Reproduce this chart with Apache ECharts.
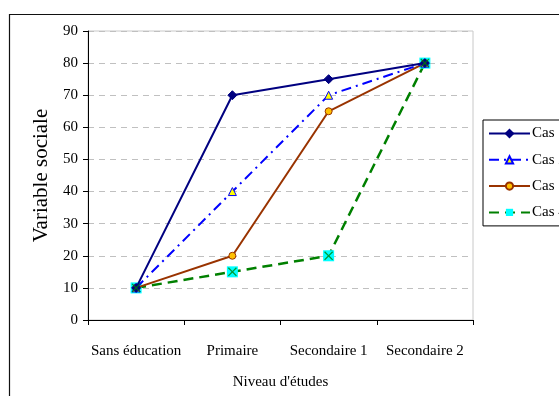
<!DOCTYPE html>
<html>
<head>
<meta charset="utf-8">
<script src="https://cdn.jsdelivr.net/npm/echarts@6/dist/echarts.min.js"></script>
<style>html,body{margin:0;padding:0;background:#fff}#c{width:559px;height:396px}</style>
</head>
<body>
<div id="c"></div>
<script>
// Niveau d'études vs variable sociale, four cases
const categories = ['Sans éducation', 'Primaire', 'Secondaire 1', 'Secondaire 2'];
const cas1 = [10, 70, 75, 80];
const cas2 = [10, 40, 70, 80];
const cas3 = [10, 20, 65, 80];
const cas4 = [10, 15, 20, 80];
const yTicks = { min: 0, max: 90, step: 10 };

const FONT = '"Liberation Serif", "Times New Roman", serif';
const crossPath = 'path://M1,0 L5,4 L9,0 L10,1 L6,5 L10,9 L9,10 L5,6 L1,10 L0,9 L4,5 L0,1 Z';

const chart = echarts.init(document.getElementById('c'), null, { renderer: 'canvas' });
chart.setOption({
  animation: false,
  backgroundColor: '#fff',
  textStyle: { fontFamily: FONT },
  graphic: [{
    type: 'rect', silent: true, z: -10,
    shape: { x: 9.5, y: 14.5, width: 620, height: 420 },
    style: { fill: 'none', stroke: '#111', lineWidth: 1.2 }
  }],
  grid: {
    left: 88, top: 31, right: 86, bottom: 76,
    outerBoundsMode: 'none', containLabel: false,
    show: true, borderColor: '#c8c8c8', borderWidth: 1, backgroundColor: 'transparent'
  },
  legend: {
    left: 483, top: 120, width: 200, orient: 'vertical',
    itemWidth: 41, itemHeight: 9, itemGap: 11.3,
    padding: [6, 10, 6, 5],
    borderColor: '#000', borderWidth: 1,
    textStyle: { fontFamily: FONT, fontSize: 15, lineHeight: 14, color: '#000', padding: [0, 0, 0, -3] },
    data: ['Cas 1', 'Cas 2', 'Cas 3', 'Cas 4']
  },
  xAxis: {
    type: 'category', data: categories, boundaryGap: true,
    name: "Niveau d'études", nameLocation: 'middle', nameGap: 55,
    nameTextStyle: { fontFamily: FONT, fontSize: 15, color: '#000' },
    axisLine: { lineStyle: { color: '#000', width: 1 } },
    axisTick: { show: true, length: 5, inside: false, alignWithLabel: false, lineStyle: { color: '#000' } },
    axisLabel: { color: '#000', fontFamily: FONT, fontSize: 15, margin: 24, interval: 0 },
    splitLine: { show: false }
  },
  yAxis: {
    type: 'value', min: yTicks.min, max: yTicks.max, interval: yTicks.step,
    name: 'Variable sociale', nameLocation: 'middle', nameGap: 32,
    nameTextStyle: { fontFamily: FONT, fontSize: 21, color: '#000' },
    axisLine: { show: true, lineStyle: { color: '#000', width: 1 } },
    axisTick: { show: true, length: 5, inside: false, lineStyle: { color: '#000' } },
    axisLabel: { color: '#000', fontFamily: FONT, fontSize: 15, margin: 10 },
    splitLine: { show: true, lineStyle: { color: '#c0c0c0', type: [6, 5], width: 1 } }
  },
  series: [
    {
      name: 'Cas 1', type: 'line', data: cas1, z: 4,
      symbol: 'diamond', symbolSize: 9, showAllSymbol: true,
      lineStyle: { color: '#000080', width: 2 },
      itemStyle: { color: '#000080', borderColor: '#000080', borderWidth: 1 }
    },
    {
      name: 'Cas 2', type: 'line', data: cas2, z: 3,
      symbol: 'triangle', symbolSize: 8, showAllSymbol: true,
      lineStyle: { color: '#0000ff', width: 2, type: [10, 5, 2, 5] },
      itemStyle: { color: '#ffff00', borderColor: '#0000ff', borderWidth: 1 }
    },
    {
      name: 'Cas 3', type: 'line', data: cas3, z: 2,
      symbol: 'circle', symbolSize: 7, showAllSymbol: true,
      lineStyle: { color: '#993300', width: 2 },
      itemStyle: { color: '#ffc000', borderColor: '#993300', borderWidth: 1 }
    },
    {
      name: 'Cas 4', type: 'line', data: cas4, z: 1,
      symbol: 'rect', symbolSize: 11, showAllSymbol: true,
      lineStyle: { color: '#008000', width: 2.5, type: [10, 6] },
      itemStyle: { color: '#00ffff', borderWidth: 0 }
    },
    {
      name: 'Cas 4 croix', type: 'scatter', data: cas4, z: 5,
      symbol: crossPath, symbolSize: 9, silent: true,
      itemStyle: { color: '#008000' }
    }
  ]
});
</script>
</body>
</html>
